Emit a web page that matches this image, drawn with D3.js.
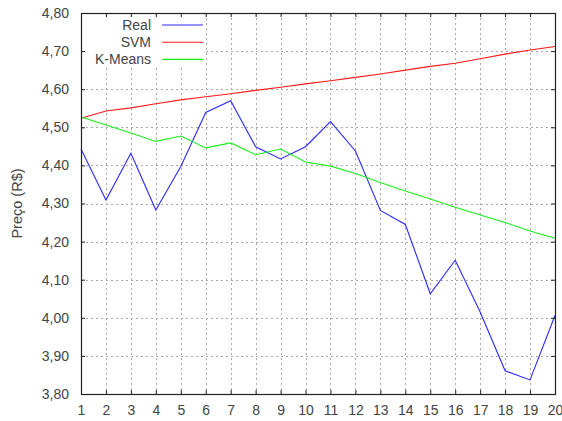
<!DOCTYPE html>
<html>
<head>
<meta charset="utf-8">
<script src="https://cdn.jsdelivr.net/npm/d3@7"></script>
<style>
  html, body { margin: 0; padding: 0; background: #fff; }
  svg { display: block; }
  text { font-family: "Liberation Sans", Arial, sans-serif; fill: #444; }
</style>
</head>
<body>
<div id="chart"></div>
<script>
// Price forecasts: observed series vs. two model predictions
const days = d3.range(1, 21);
const real = [4.443, 4.309, 4.432, 4.283, 4.397, 4.539, 4.570, 4.449, 4.417, 4.449,
              4.515, 4.438, 4.282, 4.245, 4.063, 4.151, 4.015, 3.861, 3.837, 4.006];
const svm = [4.524, 4.543, 4.551, 4.562, 4.572, 4.580, 4.588, 4.597, 4.605, 4.614,
             4.622, 4.631, 4.640, 4.650, 4.660, 4.668, 4.680, 4.692, 4.703, 4.712];
const kmeans = [4.527, 4.506, 4.485, 4.463, 4.477, 4.446, 4.459, 4.428, 4.443, 4.409,
                4.398, 4.379, 4.355, 4.333, 4.312, 4.290, 4.270, 4.250, 4.228, 4.209];
const yTicks = [3.8, 3.9, 4.0, 4.1, 4.2, 4.3, 4.4, 4.5, 4.6, 4.7, 4.8];
const series = [
  { name: "Real", values: real, color: "#2a2aff" },
  { name: "SVM", values: svm, color: "#ff1a1a" },
  { name: "K-Means", values: kmeans, color: "#1aee1a" }
];

const W = 562, H = 421;
const m = { left: 81, top: 13, right: 7, bottom: 27 };
const iw = W - m.left - m.right, ih = H - m.top - m.bottom;

const svg = d3.select("#chart").append("svg").attr("width", W).attr("height", H);
const g = svg.append("g").attr("transform", `translate(${m.left},${m.top})`);

const x = d3.scaleLinear().domain([1, 20]).range([0, iw]);
const y = d3.scaleLinear().domain([3.8, 4.8]).range([ih, 0]);
const fmt = v => d3.format(".2f")(v).replace(".", ",");

// dotted grid
const grid = g.append("g").attr("stroke", "#a8a8a8").attr("stroke-dasharray", "2,3").attr("shape-rendering", "crispEdges");
grid.selectAll(".gx").data(days.slice(1, -1)).join("line")
  .attr("x1", d => Math.round(x(d)) + 0.5).attr("x2", d => Math.round(x(d)) + 0.5)
  .attr("y1", 0).attr("y2", ih);
grid.selectAll(".gy").data(yTicks.slice(1, -1)).join("line")
  .attr("y1", d => Math.round(y(d)) + 0.5).attr("y2", d => Math.round(y(d)) + 0.5)
  .attr("x1", 0).attr("x2", iw);

// legend panel covers the grid beneath it
const legend = g.append("g");
legend.append("rect").attr("x", 1).attr("y", 1).attr("width", 123).attr("height", 52).attr("fill", "#fff");

// series lines
const line = d3.line().x((d, i) => x(days[i])).y(d => y(d));
series.forEach(s => {
  g.append("path").datum(s.values)
    .attr("fill", "none").attr("stroke", s.color).attr("stroke-width", 1.1)
    .attr("d", line);
});

// axes with inward ticks on all four sides
const tk = 4;
const axisStyle = sel => {
  sel.select(".domain").remove();
  sel.selectAll(".tick line").attr("stroke", "#222");
  sel.selectAll("text").attr("font-size", 14).attr("fill", "#444")
     .attr("font-family", "'Liberation Sans', Arial, sans-serif");
};
g.append("g").attr("transform", `translate(0,${ih})`)
  .call(d3.axisBottom(x).tickValues(days).tickFormat(d3.format("d")).tickSizeInner(-tk).tickPadding(11))
  .call(axisStyle);
g.append("g")
  .call(d3.axisTop(x).tickValues(days).tickFormat("").tickSizeInner(-tk))
  .call(axisStyle);
g.append("g")
  .call(d3.axisLeft(y).tickValues(yTicks).tickFormat(fmt).tickSizeInner(-tk).tickPadding(12))
  .call(axisStyle);
g.append("g").attr("transform", `translate(${iw},0)`)
  .call(d3.axisRight(y).tickValues(yTicks).tickFormat("").tickSizeInner(-tk))
  .call(axisStyle);

// frame
g.append("rect").attr("x", 0.5).attr("y", 0.5).attr("width", iw).attr("height", ih)
  .attr("fill", "none").attr("stroke", "#222").attr("stroke-width", 1.2);

// legend entries
series.forEach((s, i) => {
  const cy = 12 + i * 17.2;
  legend.append("text").attr("x", 70).attr("y", cy).attr("dy", "0.35em")
    .attr("text-anchor", "end").attr("font-size", 14).text(s.name);
  legend.append("line").attr("x1", 81).attr("x2", 122).attr("y1", cy).attr("y2", cy)
    .attr("stroke", s.color).attr("stroke-width", 1.1);
});

// y-axis title
svg.append("text")
  .attr("transform", `translate(22,${m.top + ih / 2}) rotate(-90)`)
  .attr("text-anchor", "middle").attr("font-size", 14.5).text("Preço (R$)");
</script>
</body>
</html>
